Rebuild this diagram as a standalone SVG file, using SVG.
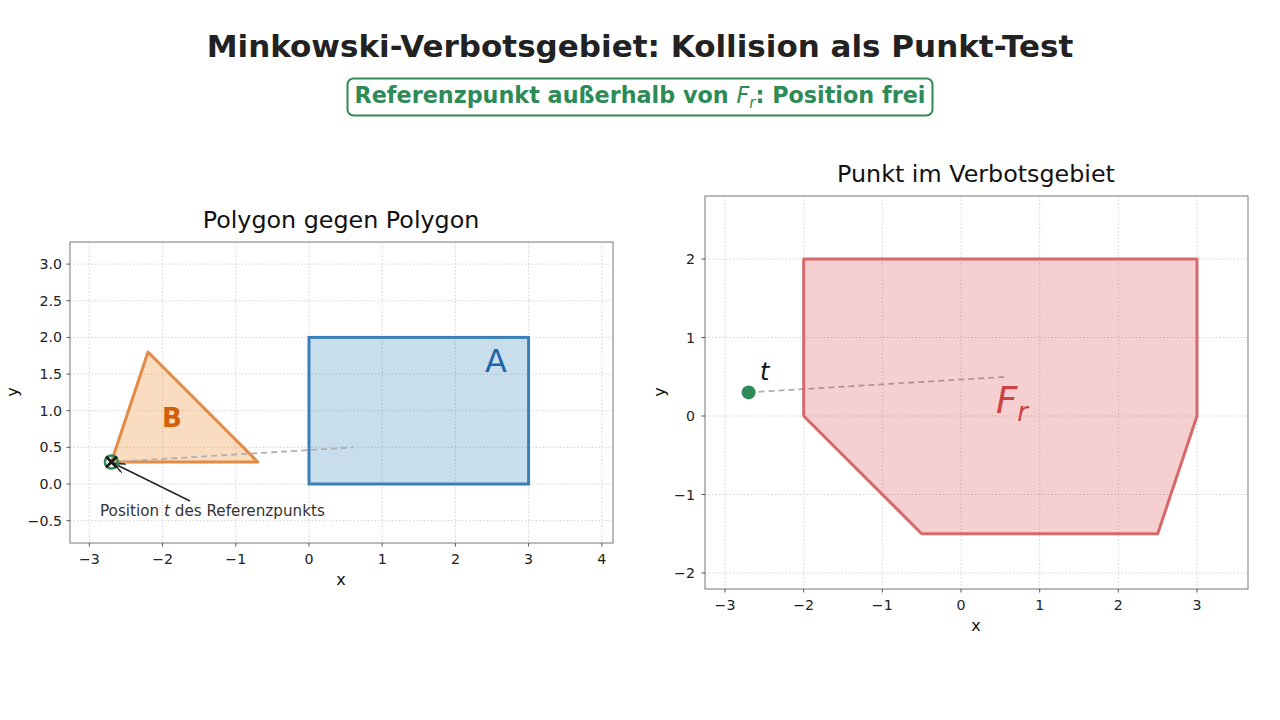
<svg xmlns="http://www.w3.org/2000/svg" width="1280" height="720" viewBox="0 0 1280 720">
<defs>
<style>
text{font-family:"DejaVu Sans","Liberation Sans",sans-serif;}
.title{font-size:31px;font-weight:bold;fill:#222;}
.sub{font-size:22.3px;font-weight:bold;fill:#2e8b57;}
.ptitle{font-size:23.8px;fill:#111;}
.tick{font-size:14.2px;fill:#222;}
.alab{font-size:16px;fill:#111;}
.grid line{stroke:#c8c8c8;stroke-width:0.8;stroke-dasharray:1.5,2;}
.spine{fill:none;stroke:#777;stroke-width:1;}
.tm line{stroke:#555;stroke-width:1;}
.dash{stroke:#b0b0b0;stroke-width:1.8;stroke-dasharray:6,4;fill:none;}
</style>
<marker id="arr" viewBox="0 0 12 10" refX="11" refY="5" markerWidth="12" markerHeight="10" markerUnits="userSpaceOnUse" orient="auto">
<path d="M0,0 L11,5 L0,10" fill="none" stroke="#222" stroke-width="1.5"/>
</marker>
</defs>
<rect width="1280" height="720" fill="#fff"/>

<g id="header">
<text class="title" x="640" y="57" text-anchor="middle">Minkowski-Verbotsgebiet: Kollision als Punkt-Test</text>
<rect x="347.5" y="78.5" width="585" height="37" rx="6" fill="#fff" stroke="#2e8b57" stroke-width="2"/>
<text class="sub" x="640" y="103" text-anchor="middle">Referenzpunkt außerhalb von <tspan font-style="italic" font-weight="normal">F</tspan><tspan font-style="italic" font-weight="normal" font-size="15" dy="5">r</tspan><tspan dy="-5">: Position frei</tspan></text>
</g>

<!-- LEFT PLOT -->
<g id="left-axes">
<text class="ptitle" x="341" y="228" text-anchor="middle">Polygon gegen Polygon</text>
<g class="grid">
<line x1="89.4" y1="242" x2="89.4" y2="543"/>
<line x1="162.6" y1="242" x2="162.6" y2="543"/>
<line x1="235.8" y1="242" x2="235.8" y2="543"/>
<line x1="309" y1="242" x2="309" y2="543"/>
<line x1="382.2" y1="242" x2="382.2" y2="543"/>
<line x1="455.4" y1="242" x2="455.4" y2="543"/>
<line x1="528.6" y1="242" x2="528.6" y2="543"/>
<line x1="601.8" y1="242" x2="601.8" y2="543"/>
<line x1="70" y1="520.65" x2="613" y2="520.65"/>
<line x1="70" y1="484" x2="613" y2="484"/>
<line x1="70" y1="447.35" x2="613" y2="447.35"/>
<line x1="70" y1="410.7" x2="613" y2="410.7"/>
<line x1="70" y1="374.05" x2="613" y2="374.05"/>
<line x1="70" y1="337.4" x2="613" y2="337.4"/>
<line x1="70" y1="300.75" x2="613" y2="300.75"/>
<line x1="70" y1="264.1" x2="613" y2="264.1"/>
</g>
<rect class="spine" x="70" y="242" width="543" height="301"/>
<g class="tm">
<line x1="89.4" y1="543" x2="89.4" y2="546.5"/>
<line x1="162.6" y1="543" x2="162.6" y2="546.5"/>
<line x1="235.8" y1="543" x2="235.8" y2="546.5"/>
<line x1="309" y1="543" x2="309" y2="546.5"/>
<line x1="382.2" y1="543" x2="382.2" y2="546.5"/>
<line x1="455.4" y1="543" x2="455.4" y2="546.5"/>
<line x1="528.6" y1="543" x2="528.6" y2="546.5"/>
<line x1="601.8" y1="543" x2="601.8" y2="546.5"/>
<line x1="70" y1="520.65" x2="66.5" y2="520.65"/>
<line x1="70" y1="484" x2="66.5" y2="484"/>
<line x1="70" y1="447.35" x2="66.5" y2="447.35"/>
<line x1="70" y1="410.7" x2="66.5" y2="410.7"/>
<line x1="70" y1="374.05" x2="66.5" y2="374.05"/>
<line x1="70" y1="337.4" x2="66.5" y2="337.4"/>
<line x1="70" y1="300.75" x2="66.5" y2="300.75"/>
<line x1="70" y1="264.1" x2="66.5" y2="264.1"/>
</g>
<g class="tick" text-anchor="middle">
<text x="89.4" y="564">−3</text>
<text x="162.6" y="564">−2</text>
<text x="235.8" y="564">−1</text>
<text x="309" y="564">0</text>
<text x="382.2" y="564">1</text>
<text x="455.4" y="564">2</text>
<text x="528.6" y="564">3</text>
<text x="601.8" y="564">4</text>
</g>
<g class="tick" text-anchor="end">
<text x="62" y="525.6">−0.5</text>
<text x="62" y="489">0.0</text>
<text x="62" y="452.3">0.5</text>
<text x="62" y="415.7">1.0</text>
<text x="62" y="379">1.5</text>
<text x="62" y="342.4">2.0</text>
<text x="62" y="305.7">2.5</text>
<text x="62" y="269.1">3.0</text>
</g>
<text class="alab" x="341" y="585" text-anchor="middle">x</text>
<text class="alab" x="18" y="392" text-anchor="middle" transform="rotate(-90 18 392)">y</text>
</g>

<g id="polygon-A">
<rect x="309" y="337.4" width="219.6" height="146.6" fill="#1f77b4" fill-opacity="0.24" stroke="#3b7fb6" stroke-width="3"/>
<text x="496" y="372" font-size="32" fill="#1f66a8" text-anchor="middle">A</text>
</g>

<g id="polygon-B">
<polygon points="111.4,462 148,352 257.8,462" fill="#f08a30" fill-opacity="0.3" stroke="#e38a45" stroke-width="3" stroke-linejoin="round"/>
<text x="172" y="427" font-size="26" font-weight="bold" fill="#d35f0a" text-anchor="middle">B</text>
</g>

<g id="connectors">
<line class="dash" x1="111.4" y1="462" x2="353" y2="447.4"/>
<line class="dash" x1="748.6" y1="392.4" x2="1008" y2="376.7"/>
<line x1="190" y1="501" x2="114" y2="463.5" stroke="#222" stroke-width="1.4" marker-end="url(#arr)"/>
</g>

<g id="ref-point-left">
<circle cx="111.4" cy="462" r="6.5" fill="none" stroke="#2e8b57" stroke-width="2.5"/>
<path d="M106,456.6 L116.8,467.4 M116.8,456.6 L106,467.4" stroke="#1a1a1a" stroke-width="2.8"/>
<text x="100" y="516" font-size="15.2" fill="#333">Position <tspan font-style="italic">t</tspan> des Referenzpunkts</text>
</g>

<!-- RIGHT PLOT -->
<g id="right-axes">
<text class="ptitle" x="976" y="182" text-anchor="middle">Punkt im Verbotsgebiet</text>
<g class="grid">
<line x1="725" y1="196" x2="725" y2="589"/>
<line x1="803.7" y1="196" x2="803.7" y2="589"/>
<line x1="882.3" y1="196" x2="882.3" y2="589"/>
<line x1="961" y1="196" x2="961" y2="589"/>
<line x1="1039.7" y1="196" x2="1039.7" y2="589"/>
<line x1="1118.3" y1="196" x2="1118.3" y2="589"/>
<line x1="1197" y1="196" x2="1197" y2="589"/>
<line x1="705" y1="259" x2="1248" y2="259"/>
<line x1="705" y1="337.5" x2="1248" y2="337.5"/>
<line x1="705" y1="416" x2="1248" y2="416"/>
<line x1="705" y1="494.5" x2="1248" y2="494.5"/>
<line x1="705" y1="573" x2="1248" y2="573"/>
</g>
<rect class="spine" x="705" y="196" width="543" height="393"/>
<g class="tm">
<line x1="725" y1="589" x2="725" y2="592.5"/>
<line x1="803.7" y1="589" x2="803.7" y2="592.5"/>
<line x1="882.3" y1="589" x2="882.3" y2="592.5"/>
<line x1="961" y1="589" x2="961" y2="592.5"/>
<line x1="1039.7" y1="589" x2="1039.7" y2="592.5"/>
<line x1="1118.3" y1="589" x2="1118.3" y2="592.5"/>
<line x1="1197" y1="589" x2="1197" y2="592.5"/>
<line x1="705" y1="259" x2="701.5" y2="259"/>
<line x1="705" y1="337.5" x2="701.5" y2="337.5"/>
<line x1="705" y1="416" x2="701.5" y2="416"/>
<line x1="705" y1="494.5" x2="701.5" y2="494.5"/>
<line x1="705" y1="573" x2="701.5" y2="573"/>
</g>
<g class="tick" text-anchor="middle">
<text x="725" y="610">−3</text>
<text x="803.7" y="610">−2</text>
<text x="882.3" y="610">−1</text>
<text x="961" y="610">0</text>
<text x="1039.7" y="610">1</text>
<text x="1118.3" y="610">2</text>
<text x="1197" y="610">3</text>
</g>
<g class="tick" text-anchor="end">
<text x="695" y="264">2</text>
<text x="695" y="342.5">1</text>
<text x="695" y="421">0</text>
<text x="695" y="499.5">−1</text>
<text x="695" y="578">−2</text>
</g>
<text class="alab" x="976" y="631" text-anchor="middle">x</text>
<text class="alab" x="665" y="392" text-anchor="middle" transform="rotate(-90 665 392)">y</text>
</g>

<g id="region-Fr">
<polygon points="803.7,259 1197,259 1197,416 1157.7,533.7 921.7,533.7 803.7,416" fill="#d62728" fill-opacity="0.22" stroke="#d5696b" stroke-width="3" stroke-linejoin="round"/>
<text x="996" y="413" font-size="37" font-style="italic" fill="#c94444">F<tspan font-size="26" dy="8">r</tspan></text>
</g>

<g id="ref-point-right">
<circle cx="748.6" cy="392.4" r="7" fill="#2e8b57"/>
<text x="760" y="380" font-size="24" font-style="italic" fill="#111">t</text>
</g>
</svg>
